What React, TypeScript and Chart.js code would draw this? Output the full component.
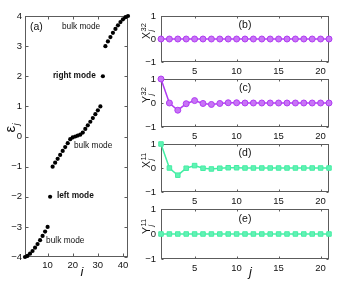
import React, { useEffect, useRef } from "react";
import { Chart, registerables } from "chart.js";

Chart.register(...registerables);

const PAGE_W = 354;
const PAGE_H = 282;
const FONT = "'Liberation Sans', Arial, Helvetica, sans-serif";

// ---------- Panel (a): eigenvalues ----------
const siteIndex = [
  1, 2, 3, 4, 5, 6, 7, 8, 9, 10, 11, 12, 13, 14, 15, 16, 17, 18, 19, 20, 21,
  22, 23, 24, 25, 26, 27, 28, 29, 30, 31, 32, 33, 34, 35, 36, 37, 38, 39, 40, 41, 42,
];
const energies = [
  -4.0, -3.96, -3.89, -3.8, -3.69, -3.57, -3.44, -3.3, -3.155, -3.0,
  -2.0,
  -1.0, -0.87, -0.74, -0.61, -0.48, -0.35, -0.22, -0.09, -0.03, 0.0,
  0.03, 0.06, 0.13, 0.25, 0.37, 0.49, 0.61, 0.74, 0.87, 1.0,
  2.0,
  3.0, 3.155, 3.3, 3.44, 3.57, 3.69, 3.8, 3.89, 3.96, 4.0,
];
const aXTicks = [10, 20, 30, 40];
const aYTicks = [-4, -3, -2, -1, 0, 1, 2, 3, 4];

// ---------- Panels (b)-(e) ----------
const bondIndex = [1, 2, 3, 4, 5, 6, 7, 8, 9, 10, 11, 12, 13, 14, 15, 16, 17, 18, 19, 20, 21];
const X32 = [0, 0, 0, 0, 0, 0, 0, 0, 0, 0, 0, 0, 0, 0, 0, 0, 0, 0, 0, 0, 0];
const Y32 = [1, 0, -0.3, -0.03, 0.1, -0.02, -0.06, -0.02, 0.01, 0.01, 0, 0, 0, 0, 0, 0, 0, 0, 0, 0, 0];
const X11 = [1, 0, -0.3, -0.01, 0.1, -0.01, -0.04, -0.01, 0.01, 0.01, 0, 0, 0, 0, 0, 0, 0, 0, 0, 0, 0];
const Y11 = [0, 0, 0, 0, 0, 0, 0, 0, 0, 0, 0, 0, 0, 0, 0, 0, 0, 0, 0, 0, 0];
const rXTicks = [5, 10, 15, 20];
const rYTicks = [-1, 0, 1];

const PURPLE = "#b03cf2";
const PURPLE_FILL = "#c874f6";
const GREEN = "#44eea4";
const GREEN_FILL = "#62f2b5";
const AXIS = "#5c5c5c";
const TEXT = "#111111";

const fmt = (v: number) => (v < 0 ? "\u2212" + Math.abs(v) : String(v));

type Area = { left: number; top: number; right: number; bottom: number };
type Note = { x: number; y: number; text: string; font: string; align?: CanvasTextAlign };
type Label = { main: string; sup?: string; sub?: string; mainSize: number; scriptSize: number; dx: number; dy: number };

interface Spec {
  key: string;
  area: Area;
  xRange: [number, number];
  yRange: [number, number];
  xTicks: number[];
  yTicks: number[];
  yAxisW: number;
  xAxisH: number;
  xPad: number;
  yPad: number;
  tickLen: number;
  datasets: any[];
  notes: Note[];
  ylabel: Label;
  xlabel?: { text: string; dx: number; y: number; size: number };
}

function drawStacked(ctx: CanvasRenderingContext2D, x: number, y: number, l: Label) {
  ctx.save();
  ctx.translate(x, y);
  ctx.rotate(-Math.PI / 2);
  ctx.fillStyle = TEXT;
  ctx.textAlign = "left";
  ctx.textBaseline = "alphabetic";
  ctx.font = `${l.mainSize}px ${FONT}`;
  ctx.fillText(l.main, 0, 0);
  const w = ctx.measureText(l.main).width;
  if (l.sup) {
    ctx.font = `${l.scriptSize}px ${FONT}`;
    ctx.fillText(l.sup, w + 0.5, -l.mainSize * 0.42);
  }
  if (l.sub) {
    ctx.font = `italic ${l.scriptSize}px ${FONT}`;
    ctx.fillText(l.sub, w + 0.5, l.mainSize * 0.25);
  }
  ctx.restore();
}

const framePlugin = {
  id: "frame",
  beforeDatasetsDraw(chart: any) {
    const spec: Spec = chart.config.options.plugins.frame;
    const { ctx, chartArea: a, scales } = chart;
    ctx.save();
    ctx.strokeStyle = AXIS;
    ctx.lineWidth = 1;
    const L = Math.round(a.left) + 0.5;
    const R = Math.round(a.right) - 0.5;
    const T = Math.round(a.top) + 0.5;
    const B = Math.round(a.bottom) - 0.5;
    ctx.strokeRect(L, T, R - L, B - T);
    ctx.beginPath();
    for (const v of spec.xTicks) {
      const px = Math.round(scales.x.getPixelForValue(v)) + 0.5;
      ctx.moveTo(px, B);
      ctx.lineTo(px, B - spec.tickLen);
      ctx.moveTo(px, T);
      ctx.lineTo(px, T + spec.tickLen);
    }
    for (const v of spec.yTicks) {
      const py = Math.round(scales.y.getPixelForValue(v)) + 0.5;
      ctx.moveTo(L, py);
      ctx.lineTo(L + spec.tickLen, py);
      ctx.moveTo(R, py);
      ctx.lineTo(R - spec.tickLen, py);
    }
    ctx.stroke();
    ctx.restore();
  },
  afterDatasetsDraw(chart: any) {
    const spec: Spec = chart.config.options.plugins.frame;
    const { ctx, chartArea: a, scales } = chart;
    ctx.save();
    ctx.fillStyle = TEXT;
    ctx.textBaseline = "middle";
    for (const n of spec.notes) {
      ctx.font = n.font;
      ctx.textAlign = n.align || "left";
      ctx.fillText(n.text, scales.x.getPixelForValue(n.x), scales.y.getPixelForValue(n.y));
    }
    const cy = (a.top + a.bottom) / 2;
    drawStacked(ctx, a.left + spec.ylabel.dx, cy + spec.ylabel.dy, spec.ylabel);
    if (spec.xlabel) {
      ctx.font = `italic ${spec.xlabel.size}px ${FONT}`;
      ctx.textAlign = "center";
      ctx.textBaseline = "middle";
      ctx.fillText(spec.xlabel.text, (a.left + a.right) / 2 + spec.xlabel.dx, spec.xlabel.y);
    }
    ctx.restore();
  },
};

function buildConfig(spec: Spec): any {
  const tickFont = { family: FONT, size: 9.5 };
  return {
    type: "line",
    data: { datasets: spec.datasets },
    options: {
      responsive: false,
      animation: false,
      devicePixelRatio: 1,
      events: [],
      layout: {
        padding: {
          left: spec.area.left - spec.yAxisW,
          top: spec.area.top,
          right: PAGE_W - spec.area.right,
          bottom: PAGE_H - spec.area.bottom - spec.xAxisH,
        },
      },
      plugins: { legend: { display: false }, tooltip: { enabled: false }, frame: spec },
      scales: {
        x: {
          type: "linear",
          min: spec.xRange[0],
          max: spec.xRange[1],
          grid: { display: false, drawTicks: false },
          border: { display: false },
          afterFit: (s: any) => {
            s.height = spec.xAxisH;
          },
          afterBuildTicks: (s: any) => {
            s.ticks = spec.xTicks.map((value) => ({ value }));
          },
          ticks: {
            autoSkip: false,
            maxRotation: 0,
            padding: spec.xPad,
            color: TEXT,
            font: tickFont,
            callback: (v: any) => fmt(Number(v)),
          },
        },
        y: {
          type: "linear",
          min: spec.yRange[0],
          max: spec.yRange[1],
          grid: { display: false, drawTicks: false },
          border: { display: false },
          afterFit: (s: any) => {
            s.width = spec.yAxisW;
          },
          afterBuildTicks: (s: any) => {
            s.ticks = spec.yTicks.map((value) => ({ value }));
          },
          ticks: {
            autoSkip: false,
            padding: spec.yPad,
            color: TEXT,
            font: tickFont,
            callback: (v: any) => fmt(Number(v)),
          },
        },
      },
    },
    plugins: [framePlugin],
  };
}

const toPoints = (xs: number[], ys: number[]) => xs.map((x, k) => ({ x, y: ys[k] }));

const purpleSet = (ys: number[]) => ({
  data: toPoints(bondIndex, ys),
  borderColor: PURPLE,
  borderWidth: 1.5,
  pointStyle: "circle",
  pointRadius: 3,
  pointBorderWidth: 1,
  pointBackgroundColor: PURPLE_FILL,
  pointBorderColor: PURPLE,
  clip: false,
  tension: 0,
});

const greenSet = (ys: number[]) => ({
  data: toPoints(bondIndex, ys),
  borderColor: GREEN,
  borderWidth: 1.5,
  pointStyle: "rect",
  pointRadius: 3.2,
  pointBorderWidth: 1,
  pointBackgroundColor: GREEN_FILL,
  pointBorderColor: GREEN,
  clip: false,
  tension: 0,
});

const noteFont = `8.3px ${FONT}`;
const noteBold = `bold 8.3px ${FONT}`;
const panelFont = `10.5px ${FONT}`;

const rightBase = {
  xRange: [1, 21] as [number, number],
  yRange: [-1, 1] as [number, number],
  xTicks: rXTicks,
  yTicks: rYTicks,
  yAxisW: 25,
  xAxisH: 14,
  xPad: 4,
  yPad: 5,
  tickLen: 2,
};

const specs: Spec[] = [
  {
    key: "a",
    area: { left: 25, top: 16, right: 128, bottom: 257 },
    xRange: [1, 42],
    yRange: [-4, 4],
    xTicks: aXTicks,
    yTicks: aYTicks,
    yAxisW: 25,
    xAxisH: 25,
    xPad: 3,
    yPad: 3,
    tickLen: 3,
    datasets: [
      {
        data: toPoints(siteIndex, energies),
        showLine: false,
        pointRadius: 2.1,
        pointBorderWidth: 0,
        pointBackgroundColor: "#000",
        pointBorderColor: "#000",
        clip: false,
      },
    ],
    notes: [
      { x: 3.0, y: 3.63, text: "(a)", font: panelFont },
      { x: 15.7, y: 3.63, text: "bulk mode", font: noteFont },
      { x: 12.1, y: 2.02, text: "right mode", font: noteBold },
      { x: 20.5, y: -0.3, text: "bulk mode", font: noteFont },
      { x: 13.7, y: -1.95, text: "left mode", font: noteBold },
      { x: 9.4, y: -3.46, text: "bulk mode", font: noteFont },
    ],
    ylabel: { main: "\u03b5", sub: "j", mainSize: 15, scriptSize: 9, dx: -10, dy: -4 },
    xlabel: { text: "i", dx: 5.5, y: 272, size: 13 },
  },
  {
    key: "b",
    ...rightBase,
    area: { left: 161, top: 16, right: 329, bottom: 62 },
    datasets: [purpleSet(X32)],
    notes: [{ x: 11, y: 0.6, text: "(b)", font: panelFont, align: "center" }],
    ylabel: { main: "X", sup: "32", sub: "j", mainSize: 10.5, scriptSize: 7.5, dx: -11, dy: 0 },
  },
  {
    key: "c",
    ...rightBase,
    area: { left: 161, top: 79, right: 329, bottom: 127 },
    datasets: [purpleSet(Y32)],
    notes: [{ x: 11, y: 0.6, text: "(c)", font: panelFont, align: "center" }],
    ylabel: { main: "Y", sup: "32", sub: "j", mainSize: 10.5, scriptSize: 7.5, dx: -11, dy: 0 },
  },
  {
    key: "d",
    ...rightBase,
    area: { left: 161, top: 144, right: 329, bottom: 192 },
    datasets: [greenSet(X11)],
    notes: [{ x: 11, y: 0.6, text: "(d)", font: panelFont, align: "center" }],
    ylabel: { main: "X", sup: "11", sub: "j", mainSize: 10.5, scriptSize: 7.5, dx: -11, dy: 0 },
  },
  {
    key: "e",
    ...rightBase,
    area: { left: 161, top: 209, right: 329, bottom: 259 },
    datasets: [greenSet(Y11)],
    notes: [{ x: 11, y: 0.6, text: "(e)", font: panelFont, align: "center" }],
    ylabel: { main: "Y", sup: "11", sub: "j", mainSize: 10.5, scriptSize: 7.5, dx: -11, dy: 0 },
    xlabel: { text: "j", dx: 5.5, y: 272, size: 13 },
  },
];

function Panel({ spec }: { spec: Spec }) {
  const ref = useRef<HTMLCanvasElement | null>(null);
  useEffect(() => {
    if (!ref.current) return;
    const chart = new Chart(ref.current, buildConfig(spec));
    return () => chart.destroy();
  }, [spec]);
  return (
    <canvas
      ref={ref}
      width={PAGE_W}
      height={PAGE_H}
      style={{ position: "absolute", left: 0, top: 0, width: PAGE_W, height: PAGE_H }}
    />
  );
}

export default function App() {
  return (
    <div
      style={{
        position: "absolute",
        left: 0,
        top: 0,
        width: PAGE_W,
        height: PAGE_H,
        background: "#ffffff",
        overflow: "hidden",
      }}
    >
      {specs.map((s) => (
        <Panel key={s.key} spec={s} />
      ))}
    </div>
  );
}
